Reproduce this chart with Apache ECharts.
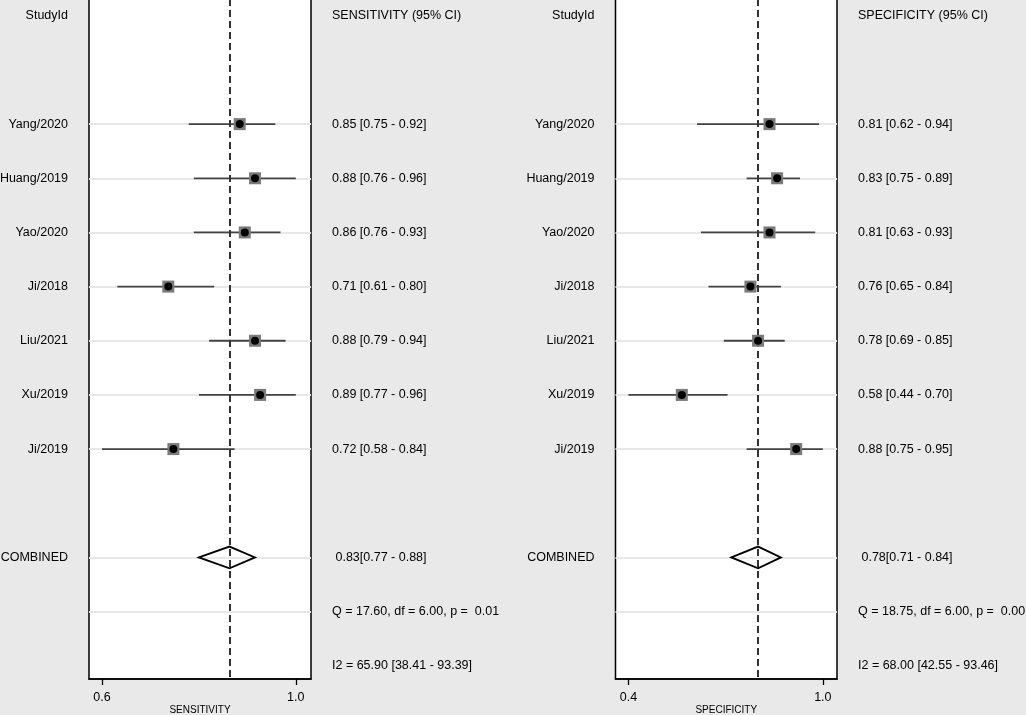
<!DOCTYPE html>
<html>
<head>
<meta charset="utf-8">
<script src="https://cdn.jsdelivr.net/npm/echarts@6/dist/echarts.min.js"></script>
<style>
  html, body { margin: 0; padding: 0; background: #e9e9e9; }
  #forest { width: 1026px; height: 715px; }
</style>
</head>
<body>
<div id="forest"></div>
<script>
// Study level estimates
var studyIds = ['Yang/2020', 'Huang/2019', 'Yao/2020', 'Ji/2018', 'Liu/2021', 'Xu/2019', 'Ji/2019'];

var sensEst  = [0.85, 0.88, 0.86, 0.71, 0.88, 0.89, 0.72];
var sensLow  = [0.75, 0.76, 0.76, 0.61, 0.79, 0.77, 0.58];
var sensHigh = [0.92, 0.96, 0.93, 0.80, 0.94, 0.96, 0.84];

var specEst  = [0.81, 0.83, 0.81, 0.76, 0.78, 0.58, 0.88];
var specLow  = [0.62, 0.75, 0.63, 0.65, 0.69, 0.44, 0.75];
var specHigh = [0.94, 0.89, 0.93, 0.84, 0.85, 0.70, 0.95];

// pooled: estimate, low, high
var sensPooled = [0.83, 0.77, 0.88];
var specPooled = [0.78, 0.71, 0.84];

var sensStats = ['Q = 17.60, df = 6.00, p =  0.01', 'I2 = 65.90 [38.41 - 93.39]'];
var specStats = ['Q = 18.75, df = 6.00, p =  0.00', 'I2 = 68.00 [42.55 - 93.46]'];

// ticks sit at the data extremes, labels are rounded
var sensTicks = [0.58, 0.96];
var sensTickLabels = ['0.6', '1.0'];
var specTicks = [0.44, 0.95];
var specTickLabels = ['0.4', '1.0'];

// row layout: 0 header, 2..8 studies, 10 combined, 11-12 heterogeneity
var firstStudyRow = 2;
var combinedRow = 10;
var allRows = [0, 1, 2, 3, 4, 5, 6, 7, 8, 9, 10, 11, 12];

var FONT = "'Liberation Sans', Arial, sans-serif";

function fmt(v) { return v.toFixed(2); }

function leftColumn() {
    var col = [];
    allRows.forEach(function () { col.push(''); });
    col[0] = 'StudyId';
    studyIds.forEach(function (s, i) { col[firstStudyRow + i] = s; });
    col[combinedRow] = 'COMBINED';
    return col;
}

function rightColumn(title, est, low, high, pooled, stats) {
    var col = [];
    allRows.forEach(function () { col.push(''); });
    col[0] = title;
    est.forEach(function (v, i) {
        col[firstStudyRow + i] = fmt(v) + ' [' + fmt(low[i]) + ' - ' + fmt(high[i]) + ']';
    });
    col[combinedRow] = ' ' + fmt(pooled[0]) + '[' + fmt(pooled[1]) + ' - ' + fmt(pooled[2]) + ']';
    col[combinedRow + 1] = stats[0];
    col[combinedRow + 2] = stats[1];
    return col;
}

var leftCol = leftColumn();
var sensCol = rightColumn('SENSITIVITY (95% CI)', sensEst, sensLow, sensHigh, sensPooled, sensStats);
var specCol = rightColumn('SPECIFICITY (95% CI)', specEst, specLow, specHigh, specPooled, specStats);

var lineRows = [];
studyIds.forEach(function (s, i) { lineRows.push(firstStudyRow + i); });
lineRows.push(combinedRow, combinedRow + 1);

var rowMin = -0.31, rowMax = 12.245;

function makeYAxes(gridIndex, labels, side) {
    return {
        type: 'value', gridIndex: gridIndex, position: side,
        inverse: true, min: rowMin, max: rowMax,
        axisLine: { show: false }, axisTick: { show: false }, splitLine: { show: false },
        axisLabel: {
            customValues: allRows, margin: 21,
            color: '#000', fontSize: 12.5, fontFamily: FONT,
            formatter: function (v) { return labels[Math.round(v)] || ''; }
        }
    };
}

function makeXAxis(gridIndex, min, max, ticks, tickLabels, name) {
    return {
        type: 'value', gridIndex: gridIndex, min: min, max: max, position: 'bottom',
        name: name, nameLocation: 'middle', nameGap: 31, nameMoveOverlap: false,
        nameTextStyle: { color: '#000', fontSize: 10, fontFamily: FONT, verticalAlign: 'middle' },
        axisLine: { show: true, onZero: false, lineStyle: { color: '#000', width: 1.5 } },
        axisTick: { show: true, customValues: ticks, length: 6, lineStyle: { color: '#000', width: 1.3 } },
        axisLabel: {
            customValues: ticks, margin: 12, color: '#000', fontSize: 12.5, fontFamily: FONT,
            formatter: function (v) {
                var k = ticks.indexOf(v);
                return k >= 0 ? tickLabels[k] : '';
            }
        },
        splitLine: { show: false }
    };
}

function panelSeries(idx, est, low, high, pooled) {
    var ci = est.map(function (v, i) { return [low[i], high[i], firstStudyRow + i]; });
    var pts = est.map(function (v, i) { return [v, firstStudyRow + i]; });
    var axes = { xAxisIndex: idx, yAxisIndex: idx * 2 };
    return [
        Object.assign({
            type: 'line', data: [], z: 1, silent: true,
            markLine: {
                symbol: 'none', silent: true, z: 1, label: { show: false },
                lineStyle: { color: '#e8e8e8', width: 2, type: 'solid' },
                data: lineRows.map(function (r) { return { yAxis: r }; })
            }
        }, axes),
        Object.assign({
            type: 'custom', z: 3, data: ci,
            encode: { x: [0, 1], y: 2 },
            renderItem: function (params, api) {
                var a = api.coord([api.value(0), api.value(2)]);
                var b = api.coord([api.value(1), api.value(2)]);
                return {
                    type: 'line',
                    shape: { x1: a[0], y1: a[1], x2: b[0], y2: b[1] },
                    style: { stroke: '#444', lineWidth: 1.8 }
                };
            },
            markLine: {
                symbol: 'none', silent: true, z: 4, label: { show: false },
                lineStyle: { color: '#333', width: 2, type: [7, 4] },
                data: [{ xAxis: pooled[0] }]
            }
        }, axes),
        Object.assign({
            type: 'scatter', z: 5, symbol: 'rect', symbolSize: 12,
            itemStyle: { color: '#7a7a7a', opacity: 1 }, data: pts
        }, axes),
        Object.assign({
            type: 'scatter', z: 6, symbol: 'circle', symbolSize: 8,
            itemStyle: { color: '#000', opacity: 1 }, data: pts
        }, axes),
        Object.assign({
            type: 'custom', z: 5, data: [[pooled[1], pooled[0], pooled[2], combinedRow]],
            encode: { x: [0, 1, 2], y: 3 },
            renderItem: function (params, api) {
                var row = api.value(3);
                var l = api.coord([api.value(0), row]);
                var c = api.coord([api.value(1), row]);
                var r = api.coord([api.value(2), row]);
                var h = api.size([0, 0.4])[1] / 2;
                return {
                    type: 'polygon',
                    shape: { points: [[l[0], l[1]], [c[0], c[1] - h], [r[0], r[1]], [c[0], c[1] + h]] },
                    style: { fill: 'none', stroke: '#000', lineWidth: 1.8 }
                };
            }
        }, axes)
    ];
}

var chart = echarts.init(document.getElementById('forest'));

var gridBase = {
    top: -1, height: 680, show: true, backgroundColor: '#fff',
    borderColor: '#000', borderWidth: 1.5, outerBoundsMode: 'none', containLabel: false
};

var option = {
    backgroundColor: '#e9e9e9',
    animation: false,
    grid: [
        Object.assign({ left: 89, width: 222 }, gridBase),
        Object.assign({ left: 615.5, width: 221.5 }, gridBase)
    ],
    xAxis: [
        makeXAxis(0, 0.5545, 0.9898, sensTicks, sensTickLabels, 'SENSITIVITY'),
        makeXAxis(1, 0.406, 0.9871, specTicks, specTickLabels, 'SPECIFICITY')
    ],
    yAxis: [
        makeYAxes(0, leftCol, 'left'),
        makeYAxes(0, sensCol, 'right'),
        makeYAxes(1, leftCol, 'left'),
        makeYAxes(1, specCol, 'right')
    ],
    series: panelSeries(0, sensEst, sensLow, sensHigh, sensPooled)
        .concat(panelSeries(1, specEst, specLow, specHigh, specPooled))
};

chart.setOption(option);
</script>
</body>
</html>
